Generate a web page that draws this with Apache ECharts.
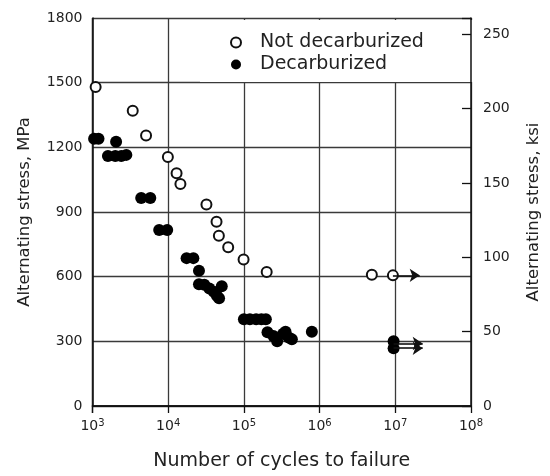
<!DOCTYPE html>
<html><head><meta charset="utf-8">
<script src="https://cdn.jsdelivr.net/npm/echarts@6/dist/echarts.min.js"></script>
<style>html,body{margin:0;padding:0;background:#fff}#c{width:550px;height:476px}</style>
</head><body><div id="c"></div>
<script>
// Data (cycles to failure, alternating stress in MPa)
const notDecarbN = [1100, 3400, 5100, 9900, 12900, 14500, 32000, 43500, 46700, 62000, 99000, 200000, 4900000, 9300000];
const notDecarbS = [1480, 1370, 1255, 1155, 1080, 1030, 935, 855, 790, 737, 680, 622, 609, 606];

const decarbN = [1050, 1200, 2050, 1600, 2000, 2400, 2800, 4400, 5800, 7600, 9700, 17500, 21500, 25500,
  25500, 30000, 35000, 40000, 44000, 47000, 51000,
  100000, 120000, 145000, 170000, 195000,
  205000, 245000, 275000, 330000, 355000, 390000, 430000, 790000,
  9500000, 9500000];
const decarbS = [1240, 1240, 1226, 1160, 1160, 1160, 1165, 965, 965, 816, 816, 686, 686, 627,
  565, 562, 545, 530, 512, 500, 556,
  402, 402, 402, 402, 402,
  342, 325, 300, 335, 345, 318, 310, 344,
  300, 268];

// Run-out arrows (did not fail)
const runoutOpenStartN = [9300000], runoutOpenEndN = [21000000], runoutOpenS = [606];
const runoutFilledStartN = [9500000, 9500000], runoutFilledEndN = [23000000, 23000000], runoutFilledS = [290, 268];

const ksiPerMPa = 1 / 6.895;
const font = 'DejaVu Sans';

function arrows(startN, endN, s) {
  return startN.map((n, i) => [{coord: [n, s[i]]}, {coord: [endN[i], s[i]]}]);
}

const chart = echarts.init(document.getElementById('c'));
chart.setOption({
  animation: false,
  backgroundColor: '#fff',
  grid: {left: 92.5, right: 74, top: 18, bottom: 67, containLabel: false},
  legend: {
    orient: 'vertical', left: 200, top: 20, padding: [13, 54, 8, 30], itemGap: 3,
    itemWidth: 10, itemHeight: 10, backgroundColor: '#fff', z: 1,
    textStyle: {fontFamily: font, fontSize: 19, color: '#222', padding: [0, 0, 0, 14]},
    data: [{name: 'Not decarburized', icon: 'circle'}, {name: 'Decarburized', icon: 'circle'}]
  },
  xAxis: [{
    type: 'log', logBase: 10, min: 1e3, max: 1e8,
    name: 'Number of cycles to failure', nameLocation: 'middle', nameGap: 46,
    nameTextStyle: {fontFamily: font, fontSize: 19, color: '#222'},
    axisLine: {show: true, lineStyle: {color: '#111', width: 1.5}},
    axisTick: {show: false},
    splitLine: {show: true, lineStyle: {color: '#3a3a3a', width: 1.3}},
    axisLabel: {
      margin: 12,
      formatter: v => '{b|10}{s|' + Math.round(Math.log10(v)) + '}',
      rich: {
        b: {fontFamily: font, fontSize: 14, color: '#222'},
        s: {fontFamily: font, fontSize: 10, color: '#222', verticalAlign: 'top', padding: [0, 0, 7, 0]}
      }
    }
  }, {
    type: 'log', logBase: 10, min: 1e3, max: 1e8, position: 'top', zlevel: 1, z: 10,
    axisLine: {show: true, lineStyle: {color: '#111', width: 1.5}},
    axisTick: {show: true, inside: true, length: 7, lineStyle: {color: '#111', width: 1.3}},
    axisLabel: {show: false}, splitLine: {show: false}
  }],
  yAxis: [{
    type: 'value', min: 0, max: 1800, interval: 300, position: 'left',
    name: 'Alternating stress, MPa', nameLocation: 'middle', nameGap: 59, nameRotate: 90,
    nameTextStyle: {fontFamily: font, fontSize: 16.5, color: '#222'},
    axisLine: {show: true, lineStyle: {color: '#111', width: 1.5}},
    axisTick: {show: false},
    splitLine: {show: true, lineStyle: {color: '#3a3a3a', width: 1.3}},
    axisLabel: {margin: 10, fontFamily: font, fontSize: 14, color: '#222', formatter: v => String(v)}
  }, {
    type: 'value', min: 0, max: 1800 * ksiPerMPa, interval: 50, position: 'right', zlevel: 1, z: 10,
    name: 'Alternating stress, ksi', nameLocation: 'middle', nameGap: 54, nameRotate: 90,
    nameTextStyle: {fontFamily: font, fontSize: 16.5, color: '#222'},
    axisLine: {show: true, lineStyle: {color: '#111', width: 1.5}},
    axisTick: {show: true, inside: true, length: 9, lineStyle: {color: '#111', width: 1.3}},
    splitLine: {show: false},
    axisLabel: {margin: 12, fontFamily: font, fontSize: 14, color: '#222',
      formatter: v => (Math.abs(v % 50) < 1e-6 ? String(v) : '')}
  }],
  series: [{
    name: 'Not decarburized', type: 'scatter', symbol: 'circle', symbolSize: 10, z: 3,
    itemStyle: {color: '#fff', borderColor: '#111', borderWidth: 2, opacity: 1},
    data: notDecarbN.map((n, i) => [n, notDecarbS[i]]),
    markLine: {
      silent: true, symbol: ['none', 'arrow'], symbolSize: 10, label: {show: false},
      lineStyle: {color: '#111', width: 1.6, type: 'solid', opacity: 1},
      data: arrows(runoutOpenStartN, runoutOpenEndN, runoutOpenS)
    }
  }, {
    name: 'Decarburized', type: 'scatter', symbol: 'circle', symbolSize: 12, z: 3,
    itemStyle: {color: '#000', opacity: 1},
    data: decarbN.map((n, i) => [n, decarbS[i]]),
    markLine: {
      silent: true, symbol: ['none', 'arrow'], symbolSize: 10, label: {show: false},
      lineStyle: {color: '#111', width: 1.6, type: 'solid', opacity: 1},
      data: arrows(runoutFilledStartN, runoutFilledEndN, runoutFilledS)
    }
  }]
});
</script></body></html>
